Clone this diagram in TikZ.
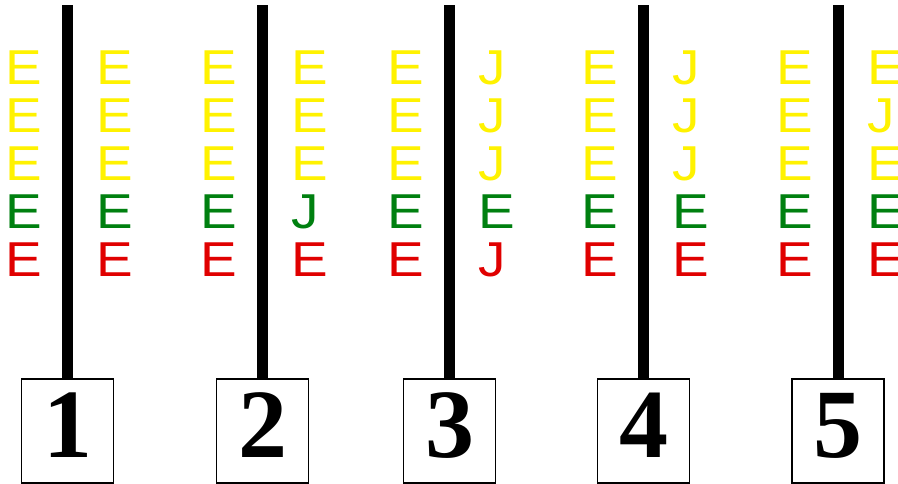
\documentclass[tikz,border=0pt]{standalone}
\usepackage{fontspec}
\usepackage{graphicx}
\newfontfamily\lettfont{Liberation Sans}
\newfontfamily\numfont{Liberation Serif}

\definecolor{ltyellow}{RGB}{255,242,0}
\definecolor{dkgreen}{RGB}{0,128,16}
\definecolor{ltred}{RGB}{224,0,0}
\colorlet{row1}{ltyellow}
\colorlet{row2}{ltyellow}
\colorlet{row3}{ltyellow}
\colorlet{row4}{dkgreen}
\colorlet{row5}{ltred}

\tikzset{
  poststick/.style={line width=11pt},
  numbox/.style={draw, line width=1.6pt, minimum width=92pt, minimum height=104pt,
                 inner sep=0pt, text depth=12pt,
                 font=\numfont\bfseries\fontsize{98}{100}\selectfont},
  letter/.style={inner sep=0pt, font=\lettfont\fontsize{49}{50}\selectfont},
}
\newcommand{\glyph}[1]{\scalebox{1.12}[1]{#1}}
\def\letJ{J}

\begin{document}
\begin{tikzpicture}[x=1pt, y=-1pt]

  %% ════ 编号框 + 竖杆 ════
  \foreach \n/\px in {1/67.5, 2/262.5, 3/449.5, 4/643.5, 5/838}{
    \node[numbox] (box\n) at (\px,431) {\n};
    \coordinate (top\n) at (\px,5);
    \draw[poststick] (box\n.north) -- (top\n);
  }

  %% ════ 杆左侧：全是 E ════
  \foreach \px [count=\i] in {67.5, 262.5, 449.5, 643.5, 838}{
    \foreach \r in {1,...,5}{
      \node[letter, text=row\r] (L\i-\r) at ({\px-43.5}, {20+48*\r}) {\glyph{E}};
    }
  }

  %% ════ 杆右侧：E / J 混排 ════
  %% J 的墨迹偏左，单独往左挪一点
  \foreach \px/\a/\b/\c/\d/\e [count=\i] in {%
      67.5/E/E/E/E/E, 262.5/E/E/E/J/E, 449.5/J/J/J/E/J,
      643.5/J/J/J/E/E, 838/E/J/E/E/E}{
    \foreach \ch [count=\r] in {\a,\b,\c,\d,\e}{
      \edef\chx{\ch}
      \ifx\chx\letJ \def\dx{4.5}\else \def\dx{0}\fi
      \node[letter, text=row\r] (R\i-\r) at ({\px+47.5-\dx}, {20+48*\r}) {\glyph{\chx}};
    }
  }

  % 钉死画布
  \pgfresetboundingbox
  \path[use as bounding box] (0,0) rectangle (898,484);
\end{tikzpicture}
\end{document}
